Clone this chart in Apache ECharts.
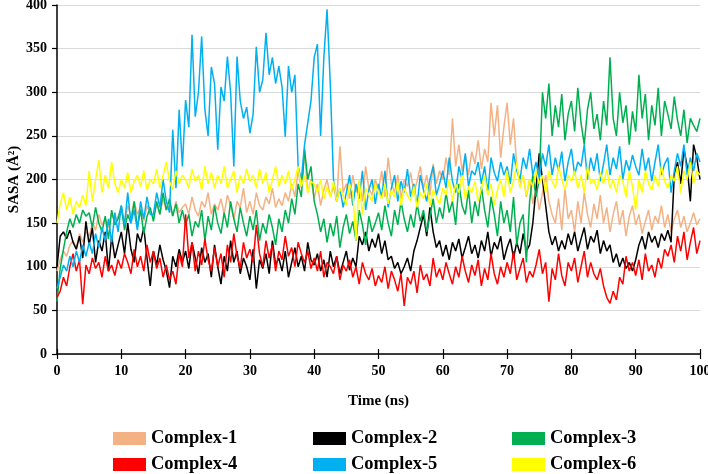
<!DOCTYPE html>
<html>
<head>
<meta charset="utf-8">
<script src="https://cdn.jsdelivr.net/npm/echarts@6/dist/echarts.min.js"></script>
<style>
  html, body { margin: 0; padding: 0; background: #fff; }
  #chart { width: 708px; height: 474px; }
</style>
</head>
<body>
<div id="chart"></div>
<script>
// SASA values, one sample every 0.5 ns from 0 to 100 ns
const complex1 = [
  95, 108, 118, 112, 125, 130, 122, 138, 128, 140,
  135, 150, 142, 160, 148, 155, 145, 162, 150, 158,
  165, 150, 170, 158, 175, 160, 168, 152, 170, 162,
  158, 172, 160, 178, 165, 170, 158, 175, 162, 168,
  172, 160, 180, 165, 158, 175, 168, 185, 160, 172,
  165, 178, 160, 182, 170, 155, 175, 168, 190, 162,
  175, 160, 185, 170, 165, 180, 172, 190, 168, 178,
  170, 185, 175, 195, 180, 210, 190, 232, 185, 200,
  178, 195, 170, 188, 200, 180, 192, 175, 238, 185,
  195, 178, 205, 185, 198, 175, 215, 190, 182, 200,
  188, 210, 180, 225, 195, 185, 205, 178, 200, 192,
  208, 185, 198, 215, 190, 205, 182, 218, 195, 210,
  200, 225, 205, 270, 215, 240, 210, 228, 205, 232,
  218, 245, 212, 235, 220, 288, 250, 285, 225, 260,
  288, 240, 270, 215, 195, 205, 180, 200, 172, 190,
  165, 185, 205, 175, 160, 150, 178, 142, 190, 155,
  165, 140, 175, 150, 185, 160, 145, 172, 155, 182,
  150, 168, 140, 160, 175, 148, 165, 135, 158, 170,
  148, 160, 138, 152, 165, 142, 158, 150, 170, 145,
  160, 140, 155, 165, 145, 158, 140, 150, 162, 148,
  155
];
const complex2 = [
  100, 135, 140, 132, 142, 128, 120, 135, 110, 152,
  125, 145, 105, 130, 118, 140, 95, 135, 110, 125,
  140, 115, 150, 120, 105, 138, 128, 145, 110, 78,
  118, 102, 125, 108, 95, 76, 112, 100, 120, 105,
  118, 98, 128, 110, 92, 122, 105, 115, 88, 125,
  100, 80, 112, 95, 130, 105, 118, 92, 110, 100,
  85, 120, 75, 108, 98, 115, 92, 130, 102, 110,
  95, 118, 88, 105, 122, 100, 112, 95, 128, 108,
  102, 115, 95, 108, 88, 118, 100, 112, 92, 105,
  118, 96, 110, 100, 135, 125, 140, 118, 132, 122,
  138, 115, 130, 108, 112, 98, 105, 92, 100, 110,
  95, 118, 130, 145, 160, 135, 168, 140, 122, 130,
  112, 125, 108, 128, 118, 132, 110, 122, 135, 115,
  125, 110, 130, 118, 140, 112, 128, 120, 135, 108,
  122, 132, 110, 128, 115, 138, 118, 125, 150, 190,
  230, 200, 170, 140, 125, 135, 118, 130, 120, 138,
  125, 140, 118, 132, 145, 120, 135, 128, 142, 115,
  130, 118, 125, 105, 115, 100, 110, 98, 105, 95,
  108, 125, 135, 120, 140, 128, 135, 122, 138, 130,
  142, 128, 205, 220, 195, 235, 215, 175, 240, 225,
  200
];
const complex3 = [
  60, 98, 120, 140, 155, 145, 160, 150, 165, 158,
  162, 145, 168, 150, 140, 158, 132, 165, 148, 155,
  170, 142, 160, 150, 175, 145, 165, 138, 158, 168,
  152, 175, 160, 185, 165, 178, 158, 172, 150, 165,
  148, 160, 135, 152, 145, 165, 130, 158, 142, 170,
  150, 138, 162, 145, 175, 155, 140, 168, 150, 135,
  158, 142, 165, 130, 150, 138, 160, 145, 125, 155,
  140, 165, 150, 178, 160, 195, 180, 235, 200, 215,
  175, 160, 140, 155, 128, 150, 135, 158, 122, 145,
  160, 138, 152, 130, 165, 148, 125, 158, 140, 150,
  162, 142, 170, 150, 135, 165, 148, 175, 155, 140,
  160, 145, 172, 152, 165, 140, 158, 178, 150, 168,
  155, 185, 162, 175, 148, 195, 170, 160, 188, 150,
  175, 158, 192, 165, 145, 180, 160, 135, 175, 150,
  165, 140, 180, 125, 150, 160, 105, 175, 205, 180,
  200, 300, 270, 310, 250, 285, 260, 298, 245, 275,
  290, 255, 305, 265, 240, 280, 300, 258, 275, 245,
  290, 262, 340, 270, 250, 300, 265, 285, 240, 278,
  255, 320, 270, 298, 245, 285, 262, 305, 250, 290,
  275, 258, 295, 268, 250, 280, 242, 270, 262, 255,
  270
];
const complex4 = [
  65, 72, 88, 78, 100, 115, 95, 108, 57, 102,
  92, 110, 98, 105, 88, 112, 95, 102, 90, 108,
  98, 115, 105, 92, 120, 100, 112, 95, 125, 105,
  118, 98, 110, 88, 102, 85, 95, 80, 115, 100,
  160, 110, 128, 95, 118, 102, 132, 108, 95, 122,
  100, 115, 88, 125, 105, 138, 112, 98, 128, 110,
  120, 105, 148, 115, 100, 130, 110, 125, 95, 118,
  108, 135, 112, 122, 100, 128, 115, 105, 118, 98,
  110, 95, 118, 88, 105, 100, 92, 112, 85, 102,
  95, 108, 88, 100, 80, 105, 92, 85, 98, 78,
  90, 82, 100, 75, 95, 85, 72, 92, 55, 88,
  80, 95, 70, 102, 85, 92, 78, 110, 88, 98,
  85, 105, 92, 80, 100, 88, 112, 95, 82, 102,
  90, 108, 78, 98, 85, 115, 92, 80, 100, 88,
  105, 92, 118, 85, 98, 110, 82, 95, 88, 102,
  120, 92, 105, 60, 98, 85, 115, 90, 78, 105,
  95, 110, 82, 100, 118, 88, 105, 92, 85, 98,
  78, 65, 58, 72, 62, 88, 80, 112, 95, 105,
  90, 108, 85, 115, 95, 102, 88, 110, 98, 120,
  112, 125, 105, 135, 118, 140, 108, 128, 145, 115,
  130
];
const complex5 = [
  75, 88, 102, 95, 112, 100, 118, 105, 125, 112,
  128, 115, 138, 122, 145, 130, 155, 128, 162, 140,
  170, 148, 185, 150, 165, 142, 175, 155, 180, 160,
  160, 185, 168, 200, 175, 162, 257, 190, 280, 215,
  291, 260, 366, 272, 300, 364, 280, 250, 329, 310,
  234, 306, 290, 341, 300, 215, 341, 290, 270, 283,
  253, 275, 352, 300, 314, 368, 320, 340, 310, 330,
  306, 249, 330, 300, 320, 215, 200, 240, 265, 290,
  340, 355, 250, 340, 395, 310, 200, 175, 190, 168,
  185, 205, 170, 195, 178, 210, 165, 188, 200, 172,
  195, 180, 210, 168, 190, 205, 175, 198, 185, 212,
  180, 195, 170, 205, 188, 175, 200, 215, 182, 195,
  210, 190, 225, 198, 185, 215, 200, 230, 192, 210,
  205, 220, 195, 215, 185, 225, 208, 198, 220, 205,
  215, 195, 230, 210, 200, 225, 212, 235, 205, 220,
  200, 230, 215, 240, 205, 225, 210, 232, 198, 220,
  235, 205, 220, 215, 240, 200, 225, 210, 230, 198,
  218, 240, 205, 225, 212, 238, 200, 222, 210, 228,
  215, 205, 235, 210, 225, 198, 220, 240, 205, 218,
  225, 185, 210, 230, 215, 240, 205, 225, 210, 230,
  220
];
const complex6 = [
  150, 172, 185, 165, 180, 160, 175, 168, 182, 170,
  210, 175, 200, 222, 185, 205, 190, 220, 195, 185,
  200, 190, 208, 185, 198, 205, 192, 210, 188, 200,
  195, 212, 190, 205, 220, 198, 188, 210, 195, 205,
  200, 190, 212, 198, 205, 188, 215, 195, 208, 190,
  205, 195, 215, 190, 200, 210, 185, 205, 195, 212,
  198, 205, 190, 212, 195, 208, 185, 200, 215, 192,
  205, 195, 210, 188, 200, 215, 192, 205, 185, 198,
  195, 185, 200, 178, 192, 180, 198, 175, 190, 182,
  170, 195, 185, 130, 200, 160, 190, 182, 175, 195,
  185, 178, 195, 172, 188, 180, 198, 170, 190, 182,
  175, 192, 168, 185, 178, 195, 170, 188, 180, 172,
  190, 182, 200, 175, 195, 185, 205, 178, 192, 185,
  198, 175, 190, 205, 182, 195, 170, 188, 200, 180,
  210, 185, 198, 220, 190, 205, 182, 200, 192, 210,
  195, 205, 185, 210, 198, 190, 215, 200, 188, 205,
  198, 210, 190, 205, 185, 215, 195, 200, 188, 208,
  195, 212, 190, 200, 185, 205, 198, 180, 210, 192,
  165, 200, 185, 210, 195, 188, 205, 192, 215, 198,
  190, 205, 198, 215, 185, 210, 200, 220, 195, 210,
  205
];

const seriesNames = ['Complex-1', 'Complex-2', 'Complex-3', 'Complex-4', 'Complex-5', 'Complex-6'];
const seriesData = [complex1, complex2, complex3, complex4, complex5, complex6];
const colors = ['#F4B183', '#000000', '#00B050', '#FF0000', '#00B0F0', '#FFFF00'];

const font = 'Liberation Serif';

const chart = echarts.init(document.getElementById('chart'));

// one legend per entry so the 3x2 layout lines up like the original
const legendLeft = [113, 313, 512];
const legendTop = [429, 455];
const legends = seriesNames.map((name, k) => ({
  data: [name],
  left: legendLeft[k % 3],
  top: legendTop[Math.floor(k / 3)],
  padding: 0,
  icon: 'rect',
  itemWidth: 33,
  itemHeight: 13,
  textStyle: { fontFamily: font, fontWeight: 'bold', fontSize: 18.5, color: '#000' }
}));

const option = {
  animation: false,
  grid: { left: 57, right: 8, top: 5, bottom: 120, outerBoundsMode: 'none' },
  legend: legends,
  xAxis: [
    {
      type: 'value',
      min: 0, max: 100, interval: 10,
      name: 'Time (ns)',
      nameLocation: 'middle',
      nameGap: 40,
      nameMoveOverlap: false,
      nameTextStyle: { fontFamily: font, fontWeight: 'bold', fontSize: 15, color: '#000' },
      axisLine: { lineStyle: { color: '#000', width: 1.5 } },
      axisTick: { length: 5, lineStyle: { color: '#000', width: 1.2 } },
      axisLabel: { fontFamily: font, fontWeight: 'bold', fontSize: 14, color: '#000', margin: 10 },
      splitLine: { show: false }
    },
    {
      // inner half of the crossing ticks
      type: 'value',
      position: 'bottom',
      min: 0, max: 100, interval: 10,
      axisLine: { show: false },
      axisTick: { inside: true, length: 5, lineStyle: { color: '#000', width: 1.2 } },
      axisLabel: { show: false },
      splitLine: { show: false }
    }
  ],
  yAxis: {
    type: 'value',
    min: 0, max: 400, interval: 50,
    name: 'SASA (Å²)',
    nameLocation: 'middle',
    nameGap: 35,
    nameMoveOverlap: false,
    nameTextStyle: { fontFamily: font, fontWeight: 'bold', fontSize: 15, color: '#000' },
    axisLine: { show: true, lineStyle: { color: '#000', width: 1.5 } },
    axisTick: { show: true, length: 5, lineStyle: { color: '#000', width: 1.2 } },
    axisLabel: { fontFamily: font, fontWeight: 'bold', fontSize: 14, color: '#000', margin: 10 },
    splitLine: { lineStyle: { color: '#D9D9D9', width: 1 } }
  },
  series: seriesNames.map((name, k) => ({
    name: name,
    type: 'line',
    symbol: 'none',
    color: colors[k],
    lineStyle: { width: 1.5, color: colors[k] },
    data: seriesData[k].map((v, i) => [i * 0.5, v])
  }))
};

chart.setOption(option);
</script>
</body>
</html>
